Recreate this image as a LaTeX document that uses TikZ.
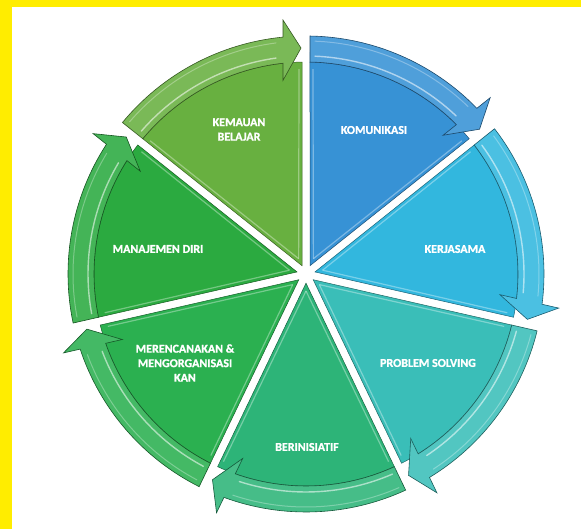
\documentclass[tikz,border=0pt]{standalone}
\usepackage{fontspec}
\setmainfont{Carlito}[BoldFeatures={FakeBold=1.2}]
\definecolor{yel}{RGB}{255,237,0}
\definecolor{cKom}{RGB}{55,146,213}
\definecolor{cKer}{RGB}{50,183,222}
\definecolor{cPro}{RGB}{58,190,184}
\definecolor{cBer}{RGB}{45,180,120}
\definecolor{cMer}{RGB}{43,176,80}
\definecolor{cMan}{RGB}{43,170,64}
\definecolor{cKem}{RGB}{104,176,64}
\newcommand{\pieslice}[3]{%
  % #1 start angle (ccw edge), #2 end angle (cw edge), #3 colour
  \filldraw[fill=#3, draw=#3!55!black, line width=0.5pt]
    ({(#1+#2)/2}:9.22pt) -- ({#1-asin(4/212)}:212pt)
    arc[start angle={#1-asin(4/212)}, end angle={#2+asin(4/212)}, radius=212pt] -- cycle;
  \draw[white, opacity=.35, line width=1.2pt]
    ({(#1+#2)/2}:17pt) -- ({#1-asin(7/205)}:205pt);
  \draw[white, opacity=.35, line width=1.2pt]
    ({(#1+#2)/2}:17pt) -- ({#2+asin(7/205)}:205pt);
  \filldraw[fill=#3!88!white, draw=#3!50!black, line width=0.6pt]
    ({#1-asin(4/238)}:238pt)
    arc[start angle={#1-asin(4/238)}, end angle={#2+asin(23/238)}, radius=238pt]
    -- ({#2+asin(23/255)}:255pt)
    -- ({#2+asin(5/226)}:226pt)
    -- ({#2+asin(23/195)}:195pt)
    -- ({#2+asin(23/212)}:212pt)
    arc[start angle={#2+asin(23/212)}, end angle={#1-asin(4/212)}, radius=212pt]
    -- cycle;
  \draw[white, opacity=.55, line width=1.4pt, line cap=round]
    ({#1-asin(9/218)}:218pt)
    arc[start angle={#1-asin(9/218)}, end angle={#2+asin(30/218)}, radius=218pt];
  \draw[white, opacity=.3, line width=1pt, line cap=round]
    ({#1-asin(9/233)}:233pt)
    arc[start angle={#1-asin(9/233)}, end angle={#2+asin(30/233)}, radius=233pt];
}
\tikzset{lbl/.style={text=white, font=\bfseries\fontsize{12}{14.5}\selectfont, align=center, inner sep=0pt}}
\begin{document}
\begin{tikzpicture}[x=1pt,y=1pt]
\useasboundingbox (0,0) rectangle (581,529);
\fill[white] (0,0) rectangle (581,529);
\fill[yel] (0,522) rectangle (581,529);
\fill[yel] (0,0) rectangle (12,529);
\begin{scope}[shift={(306,255)}]
  \pieslice{90}{38.571}{cKom}
  \pieslice{38.571}{-12.857}{cKer}
  \pieslice{-12.857}{-64.286}{cPro}
  \pieslice{-64.286}{-115.714}{cBer}
  \pieslice{-115.714}{-167.143}{cMer}
  \pieslice{-167.143}{-218.571}{cMan}
  \pieslice{141.429}{90}{cKem}
\end{scope}
\node[lbl] (kem) at (239,399.5) {KEMAUAN\\BELAJAR};
\node[lbl] (kom) at (374,399) {KOMUNIKASI};
\node[lbl] (ker) at (455,280) {KERJASAMA};
\node[lbl] (pro) at (428,166) {PROBLEM SOLVING};
\node[lbl] (ber) at (307,82) {BERINISIATIF};
\node[lbl] (mer) at (185,166) {MERENCANAKAN \&\\MENGORGANISASI\\KAN};
\node[lbl] (man) at (158,280) {MANAJEMEN DIRI};
\end{tikzpicture}
\end{document}
